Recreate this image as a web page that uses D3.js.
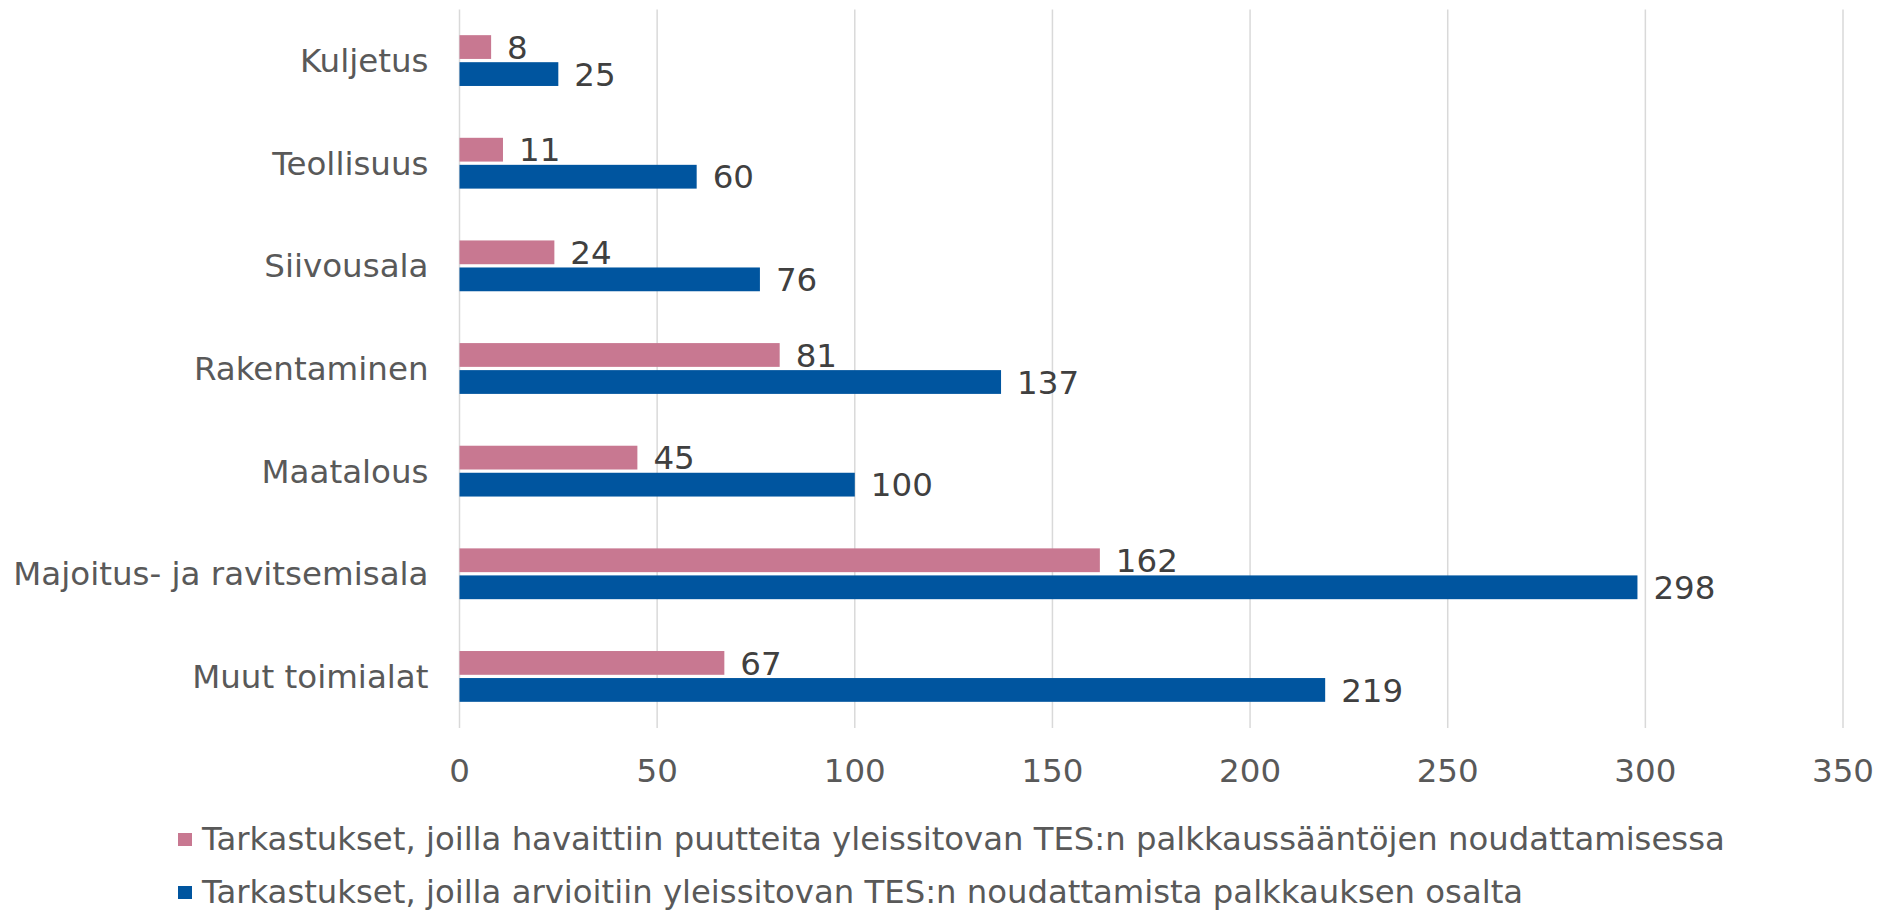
<!DOCTYPE html>
<html>
<head>
<meta charset="utf-8">
<script src="https://cdnjs.cloudflare.com/ajax/libs/d3/7.8.5/d3.min.js"></script>
<style>
  body { margin: 0; background: #fff; }
  svg { display: block; font-family: "DejaVu Sans", Verdana, sans-serif; }
</style>
</head>
<body>
<script>
const width = 1881;
const height = 910;

const categories = ["Kuljetus", "Teollisuus", "Siivousala", "Rakentaminen", "Maatalous", "Majoitus- ja ravitsemisala", "Muut toimialat"];
const series = [
    "Tarkastukset, joilla havaittiin puutteita yleissitovan TES:n palkkaussääntöjen noudattamisessa",
    "Tarkastukset, joilla arvioitiin yleissitovan TES:n noudattamista palkkauksen osalta"
];
const puutteita = [8, 11, 24, 81, 45, 162, 67];
const arvioitiin = [25, 60, 76, 137, 100, 298, 219];
const ticks = [0, 50, 100, 150, 200, 250, 300, 350];
const colors = ["#c87891", "#00559f"];

const margin = {top: 9.5, left: 459.5, right: 38, bottom: 182};

const svg = d3.select("body").append("svg")
              .attr("width", width)
              .attr("height", height);

const x = d3.scaleLinear()
            .domain([0, 350])
            .range([margin.left, width - margin.right]);

const y = d3.scaleBand()
            .domain(categories)
            .range([margin.top, height - margin.bottom]);

// two bars inside each category band
const sub = d3.scaleBand()
              .domain([0, 1])
              .range([y.bandwidth() * 0.25, y.bandwidth() * 0.745])
              .paddingInner(0.12);

// gridlines
svg.append("g")
   .selectAll("line")
   .data(ticks)
   .join("line")
   .attr("x1", d => x(d))
   .attr("x2", d => x(d))
   .attr("y1", y.range()[0])
   .attr("y2", y.range()[1])
   .style("stroke", "#d9d9d9")
   .style("stroke-width", 1.5);

// x tick labels
svg.append("g")
   .selectAll("text")
   .data(ticks)
   .join("text")
   .attr("x", d => x(d))
   .attr("y", 782)
   .attr("text-anchor", "middle")
   .style("font-size", "32.5px")
   .style("fill", "#595959")
   .text(d => d);

// category labels
svg.append("g")
   .selectAll("text")
   .data(categories)
   .join("text")
   .attr("x", margin.left - 31)
   .attr("y", d => y(d) + y.bandwidth() / 2)
   .attr("dy", "0.35em")
   .attr("text-anchor", "end")
   .style("font-size", "32.5px")
   .style("fill", "#595959")
   .text(d => d);

const rows = categories.map((c, i) => ({cat: c, values: [puutteita[i], arvioitiin[i]]}));

const groups = svg.append("g")
   .selectAll("g")
   .data(rows)
   .join("g")
   .attr("transform", d => `translate(0,${y(d.cat)})`);

groups.selectAll("rect")
   .data(d => d.values.map((v, j) => ({v, j})))
   .join("rect")
   .attr("x", x(0))
   .attr("y", d => sub(d.j))
   .attr("width", d => x(d.v) - x(0))
   .attr("height", sub.bandwidth())
   .style("fill", d => colors[d.j]);

groups.selectAll("text")
   .data(d => d.values.map((v, j) => ({v, j})))
   .join("text")
   .attr("x", d => x(d.v) + 16)
   .attr("y", d => sub(d.j) + sub.bandwidth() / 2)
   .attr("dy", "0.36em")
   .style("font-size", "32.5px")
   .style("fill", "#404040")
   .text(d => d.v);

// legend
const legend = svg.append("g")
   .selectAll("g")
   .data(series)
   .join("g")
   .attr("transform", (d, i) => `translate(178,${833 + i * 53})`);

legend.append("rect")
   .attr("width", 14)
   .attr("height", 13)
   .style("fill", (d, i) => colors[i]);

legend.append("text")
   .attr("x", 24)
   .attr("y", 17)
   .style("font-size", "32.3px")
   .style("fill", "#595959")
   .text(d => d);
</script>
</body>
</html>
